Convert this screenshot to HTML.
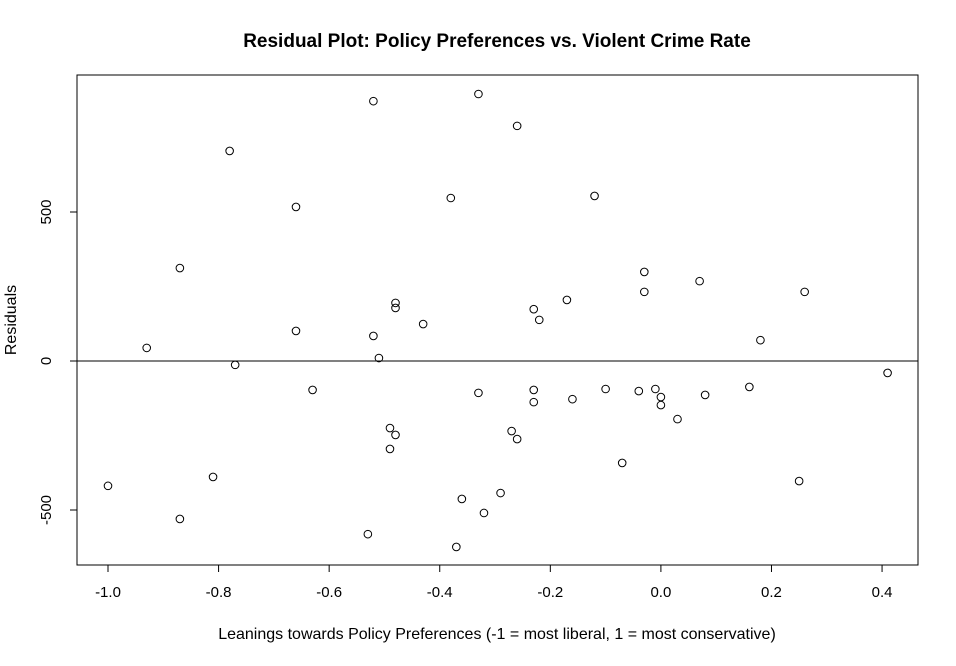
<!DOCTYPE html>
<html><head><meta charset="utf-8"><style>
html,body{margin:0;padding:0;background:#fff;}
svg text{font-family:"Liberation Sans",Arial,sans-serif;fill:#000;}
</style></head><body>
<svg id="chart" width="956" height="661">
<text x="497" y="47" text-anchor="middle" font-size="19" font-weight="bold">Residual Plot: Policy Preferences vs. Violent Crime Rate</text>
<rect x="77" y="75" width="841" height="490" fill="none" stroke="#000"/>
<text x="497" y="639" text-anchor="middle" font-size="16">Leanings towards Policy Preferences (-1 = most liberal, 1 = most conservative)</text>
<text transform="translate(16,320) rotate(-90)" text-anchor="middle" font-size="16">Residuals</text>
<g id="xaxis"></g><g id="yaxis"></g><g id="pts"></g>
</svg>
<script>
const xVals=[-1.0,-0.93,-0.87,-0.87,-0.81,-0.78,-0.77,-0.66,-0.66,-0.63,-0.53,-0.52,-0.52,-0.51,-0.49,-0.49,-0.48,-0.48,-0.48,-0.43,-0.38,-0.37,-0.36,-0.33,-0.33,-0.32,-0.29,-0.27,-0.26,-0.26,-0.23,-0.23,-0.23,-0.22,-0.17,-0.16,-0.12,-0.10,-0.07,-0.04,-0.03,-0.03,-0.01,0.0,0.0,0.03,0.07,0.08,0.16,0.18,0.25,0.26,0.41];
const residuals=[-419,44,312,-530,-389,705,-13,517,101,-97,-581,872,84,10,-225,-295,195,178,-248,124,547,-624,-463,896,-107,-510,-443,-235,789,-262,174,-97,-138,138,205,-128,554,-94,-342,-101,299,232,-94,-121,-148,-195,268,-114,-87,70,-403,232,-40];
const xTicks=[-1.0,-0.8,-0.6,-0.4,-0.2,0.0,0.2,0.4];
const xTickLabels=["-1.0","-0.8","-0.6","-0.4","-0.2","0.0","0.2","0.4"];
const yTicks=[-500,0,500];
const yTickLabels=["-500","0","500"];
const NS="http://www.w3.org/2000/svg";
const sx=v=>108+(v+1)*552.9;
const sy=v=>361-v*0.298;
function mk(t,a,p){const e=document.createElementNS(NS,t);for(const k in a)e.setAttribute(k,a[k]);p.appendChild(e);return e;}
const xa=document.getElementById('xaxis'),ya=document.getElementById('yaxis'),pg=document.getElementById('pts');
const xl=mk('line',{x1:sx(xTicks[0]),x2:sx(xTicks[xTicks.length-1]),y1:565,y2:565,stroke:'#000'},xa);


xTicks.forEach((v,i)=>{
 const t=mk('line',{x1:sx(v),x2:sx(v),y1:565,y2:572,stroke:'#000'},xa);
 
 
 const l=mk('text',{x:sx(v),y:597,'text-anchor':'middle','font-size':15},xa);l.textContent=xTickLabels[i];
 
 
});
const yl=mk('line',{x1:77,x2:77,y1:sy(yTicks[0]),y2:sy(yTicks[yTicks.length-1]),stroke:'#000'},ya);


yTicks.forEach((v,i)=>{
 const t=mk('line',{x1:70,x2:77,y1:sy(v),y2:sy(v),stroke:'#000'},ya);
 
 
 const l=mk('text',{transform:`translate(51,${sy(v)}) rotate(-90)`,'text-anchor':'middle','font-size':15},ya);l.textContent=yTickLabels[i];
 
 
});
const z=mk('line',{x1:77,x2:918,y1:sy(0),y2:sy(0),stroke:'#000'},pg);


xVals.forEach((v,i)=>{
 const c=mk('circle',{cx:sx(v),cy:sy(residuals[i]),r:3.8,fill:'none',stroke:'#000'},pg);
 
 
});
</script>
</body></html>
